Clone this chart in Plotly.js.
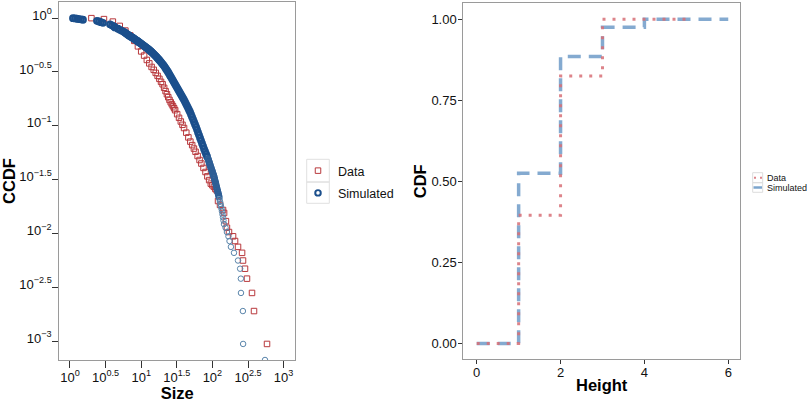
<!DOCTYPE html>
<html><head><meta charset="utf-8">
<script src="https://cdn.plot.ly/plotly-3.0.1.min.js"></script>
<style>html,body{margin:0;padding:0;background:#fff;} #chart{width:807px;height:402px;}</style>
</head><body><div id="chart"></div>
<script>
// Left panel: CCDF of size (observed data)
const dataSize = [2,3,4,5,6,7,8,9,10,11,12,13,14,15,16,17,18,19,20,
  21,22,23,24,25,26,27,28,29,30,32,34,36,38,40,43,46,49,52,55,58,62,66,70,75,80,85,90,95,100,105,110,115,
  120,128,141,146,155,160,171,195,208,229,261,269,287,306,360,384,585];
const dataCCDF = [1.0,0.9795,0.929,0.847,0.767,0.692,0.615,0.547,0.491,0.449,0.409,0.380,0.352,0.331,0.310,0.291,0.273,0.256,0.243,
  0.2254,0.2099,0.1963,0.1845,0.1738,0.1652,0.1581,0.1517,0.1455,0.1396,0.1282,0.1186,0.1096,0.1021,0.0953,0.0863,0.0780,0.0713,0.0661,0.0614,0.0573,0.0524,0.0481,0.0446,0.0406,0.0372,0.0339,0.0313,0.0290,0.0280,0.0271,0.0259,0.0251,
  0.0200,0.0184,0.0165,0.0155,0.0130,0.0113,0.0103,0.0094,0.0085,0.0075,0.0066,0.0056,0.0047,0.0038,0.0028,0.0019,0.00094];

// Left panel: CCDF of size (simulated)
const simSize = [1.102,1.175,1.254,1.338,1.427,1.523,
  2.393,2.553,2.723,2.904,
  3.647,3.89,4.15,4.285,
  4.72,5.036,5.37,
  5.73,5.92,6.12,6.32,6.53,6.74,6.96,7.19,7.43,7.68,7.93,8.19,8.46,8.74,9.02,9.32,9.62,9.94,10.26,10.60,10.95,11.31,11.68,12.06,12.46,12.87,13.29,13.73,14.18,14.65,15.13,15.63,16.14,16.68,17.22,17.79,
  18.37,18.97,19.60,20.24,20.91,21.60,22.31,23.04,23.80,24.58,25.39,26.23,27.09,27.98,28.90,29.85,30.83,31.85,32.90,33.98,35.10,36.25,37.45,38.68,39.95,41.27,42.62,44.03,45.47,46.97,48.52,50.11,51.76,53.47,55.23,57.04,58.92,60.86,62.86,64.93,67.07,69.27,71.55,73.91,76.34,78.85,81.45,84.13,86.90,88.32,89.76,91.22,92.71,94.22,95.76,97.32,98.91,100.5,102.2,103.8,105.5,107.2,109.0,110.8,112.6,114.4,116.3,118.2,120.1,122.1,124.1,
  126,128,130,132,134.3,136.5,138.6,141,143,145.5,153,160,168,174,182,201,229,245,251,252,268,270,548];
const simCCDF = [1.0,0.9936,0.9872,0.9809,0.9746,0.9663,
  0.9438,0.9318,0.9180,0.9044,
  0.8757,0.8571,0.8372,0.8195,
  0.7990,0.7786,0.7621,
  0.7460,0.734,0.7224,0.711,0.6997,0.691,0.6819,0.672,0.6633,0.654,0.6451,0.6355,0.6260,0.6167,0.6075,0.5985,0.5896,0.5802,0.5709,0.5618,0.5529,0.5441,0.5354,0.5269,0.5185,0.5092,0.4999,0.4905,0.4811,0.4710,0.4609,0.4512,0.4416,0.4313,0.4211,0.4110,
  0.4011,0.3908,0.3801,0.3705,0.3603,0.3489,0.3378,0.3272,0.3168,0.3055,0.2939,0.2835,0.2728,0.2630,0.2531,0.2440,0.2349,0.2265,0.2180,0.2102,0.2022,0.1950,0.1876,0.1809,0.1741,0.1668,0.1598,0.1531,0.1467,0.1405,0.1346,0.1276,0.1209,0.1147,0.1087,0.1030,0.0977,0.0922,0.0868,0.0819,0.0772,0.0729,0.0686,0.0648,0.0610,0.0578,0.0548,0.0519,0.0493,0.0478,0.0462,0.0447,0.0433,0.0419,0.0406,0.0393,0.0381,0.0369,0.0357,0.0346,0.0335,0.0321,0.0307,0.0295,0.0282,0.0270,0.0259,0.0248,0.0238,0.0228,0.0218,
  0.0207,0.0197,0.0188,0.0179,0.0169,0.0160,0.0150,0.0141,0.0132,0.0122,0.0113,0.0103,0.0094,0.0085,0.0075,0.0066,0.0056,0.0047,0.0038,0.0028,0.0019,0.00094,0.000667];

// Right panel: CDF of height
const dataHeight = [0,1,2,3,4,5];
const dataCDF = [0,0.395,0.825,1,1,1];
const simHeight = [0,1,2,3,4,5,6];
const simCDF = [0,0.525,0.885,0.975,1,1,1];

// Tick labels
const sizeTickVals = [1,3.1623,10,31.623,100,316.23,1000];
const sizeTickText = ['10<sup>0</sup>','10<sup>0.5</sup>','10<sup>1</sup>','10<sup>1.5</sup>','10<sup>2</sup>','10<sup>2.5</sup>','10<sup>3</sup>'];
const ccdfTickVals = [0.001,0.0031623,0.01,0.031623,0.1,0.31623,1];
const ccdfTickText = ['10<sup>\u22123</sup>','10<sup>\u22122.5</sup>','10<sup>\u22122</sup>','10<sup>\u22121.5</sup>','10<sup>\u22121</sup>','10<sup>\u22120.5</sup>','10<sup>0</sup>'];
const heightTickVals = [0,2,4,6];
const cdfTickVals = [0,0.25,0.5,0.75,1];
const cdfTickText = ['0.00','0.25','0.50','0.75','1.00'];

const FONT = 'Liberation Sans, Arial, Helvetica, sans-serif';
const W = 807, H = 402;
const px = v => v / W;
const py = v => 1 - v / H;

// styling rule: overlapping (dense) part of the simulated CCDF renders as a solid band
const simColor = simCCDF.map(v => v >= 0.05 ? '#1b4f8c' : (v >= 0.0215 ? '#2f5f96' : '#5a85ab'));
const simLineW = simCCDF.map(v => v >= 0.05 ? 2.3 : (v >= 0.0215 ? 1.6 : 1));

const traces = [
  {x: dataSize, y: dataCCDF, type: 'scatter', mode: 'markers', name: 'Data', xaxis: 'x', yaxis: 'y', legendgroup: 'd',
   marker: {symbol: 'square-open', size: 5.5, color: '#b8383c', line: {width: 1}}},
  {x: simSize, y: simCCDF, type: 'scatter', mode: 'markers', name: 'Simulated', xaxis: 'x', yaxis: 'y', legendgroup: 's',
   marker: {symbol: 'circle-open', size: 5.5, color: simColor, line: {width: simLineW}}},
  {x: simHeight, y: simCDF, type: 'scatter', mode: 'lines', name: 'Simulated', xaxis: 'x2', yaxis: 'y2', showlegend: false,
   line: {shape: 'hv', color: 'rgba(110,155,200,0.85)', width: 3.5, dash: '13px,8px'}},
  {x: dataHeight, y: dataCDF, type: 'scatter', mode: 'lines', name: 'Data', xaxis: 'x2', yaxis: 'y2', showlegend: false,
   line: {shape: 'hv', color: 'rgba(215,110,118,0.85)', width: 3, dash: '3px,7px'}}
];

const axisCommon = {showline: true, mirror: true, linecolor: '#9a9a9a', linewidth: 1, showgrid: false, zeroline: false,
  ticks: 'outside', tickcolor: '#333', tickwidth: 1, tickfont: {family: FONT, size: 13, color: '#111'}};

const layout = {
  width: W, height: H, margin: {l: 0, r: 0, t: 0, b: 0},
  paper_bgcolor: '#fff', plot_bgcolor: '#fff',
  font: {family: FONT, color: '#111'},
  showlegend: true,
  legend: {x: px(298), y: py(156), xanchor: 'left', yanchor: 'top', font: {family: FONT, size: 12.5, color: '#111'},
    bgcolor: 'rgba(0,0,0,0)', borderwidth: 0, traceorder: 'grouped', tracegroupgap: 3},
  xaxis: Object.assign({}, axisCommon, {domain: [px(59.3), px(295)], anchor: 'y', type: 'log', range: [-0.15, 3.16],
    tickmode: 'array', tickvals: sizeTickVals, ticktext: sizeTickText, ticklen: 7, ticklabelstandoff: -2,
    title: {text: '<b>Size</b>', font: {family: FONT, size: 16.5, color: '#000'}, standoff: 2}}),
  yaxis: Object.assign({}, axisCommon, {domain: [py(360), py(2)], anchor: 'x', type: 'log', range: [-3.176, 0.15],
    tickmode: 'array', tickvals: ccdfTickVals, ticktext: ccdfTickText, ticklen: 6, ticklabelstandoff: -2, ticklabelshift: -3,
    title: {text: '<b>CCDF</b>', font: {family: FONT, size: 16.5, color: '#000'}, standoff: 5}}),
  xaxis2: Object.assign({}, axisCommon, {domain: [px(463.3), px(740)], anchor: 'y2', range: [-0.32, 6.28],
    tickmode: 'array', tickvals: heightTickVals, ticklen: 4, ticklabelstandoff: -3,
    title: {text: '<b>Height</b>', font: {family: FONT, size: 16.5, color: '#000'}, standoff: 0}}),
  yaxis2: Object.assign({}, axisCommon, {domain: [py(359.3), py(3.3)], anchor: 'x2', range: [-0.049, 1.049],
    tickmode: 'array', tickvals: cdfTickVals, ticktext: cdfTickText, ticklen: 4, ticklabelstandoff: -1,
    title: {text: '<b>CDF</b>', font: {family: FONT, size: 16.5, color: '#000'}, standoff: 0}}),
  shapes: [
    // left legend key boxes
    {type: 'rect', xref: 'paper', yref: 'paper', x0: px(306.7), x1: px(329.3), y0: py(182), y1: py(159.3), line: {color: '#e0e0e0', width: 1}},
    {type: 'rect', xref: 'paper', yref: 'paper', x0: px(306.7), x1: px(329.3), y0: py(203.3), y1: py(182), line: {color: '#e0e0e0', width: 1}},
    // right legend key boxes
    {type: 'rect', xref: 'paper', yref: 'paper', x0: px(752.7), x1: px(762.7), y0: py(182.7), y1: py(172.7), line: {color: '#dcdcdc', width: 1}},
    {type: 'rect', xref: 'paper', yref: 'paper', x0: px(752.7), x1: px(762.7), y0: py(192.3), y1: py(182.7), line: {color: '#dcdcdc', width: 1}},
    {type: 'line', xref: 'paper', yref: 'paper', x0: px(754), x1: px(762), y0: py(177.7), y1: py(177.7), line: {color: 'rgba(215,110,118,0.85)', width: 2, dash: '2px,4px'}},
    {type: 'line', xref: 'paper', yref: 'paper', x0: px(753.5), x1: px(762), y0: py(187.5), y1: py(187.5), line: {color: 'rgba(110,155,200,0.9)', width: 2.5}}
  ],
  annotations: [
    {xref: 'paper', yref: 'paper', x: px(765), y: py(177.7), xanchor: 'left', yanchor: 'middle', showarrow: false, text: 'Data', font: {family: FONT, size: 9, color: '#111'}},
    {xref: 'paper', yref: 'paper', x: px(765), y: py(187.5), xanchor: 'left', yanchor: 'middle', showarrow: false, text: 'Simulated', font: {family: FONT, size: 9, color: '#111'}}
  ]
};

Plotly.newPlot('chart', traces, layout, {displayModeBar: false, staticPlot: true});
</script>
</body></html>
